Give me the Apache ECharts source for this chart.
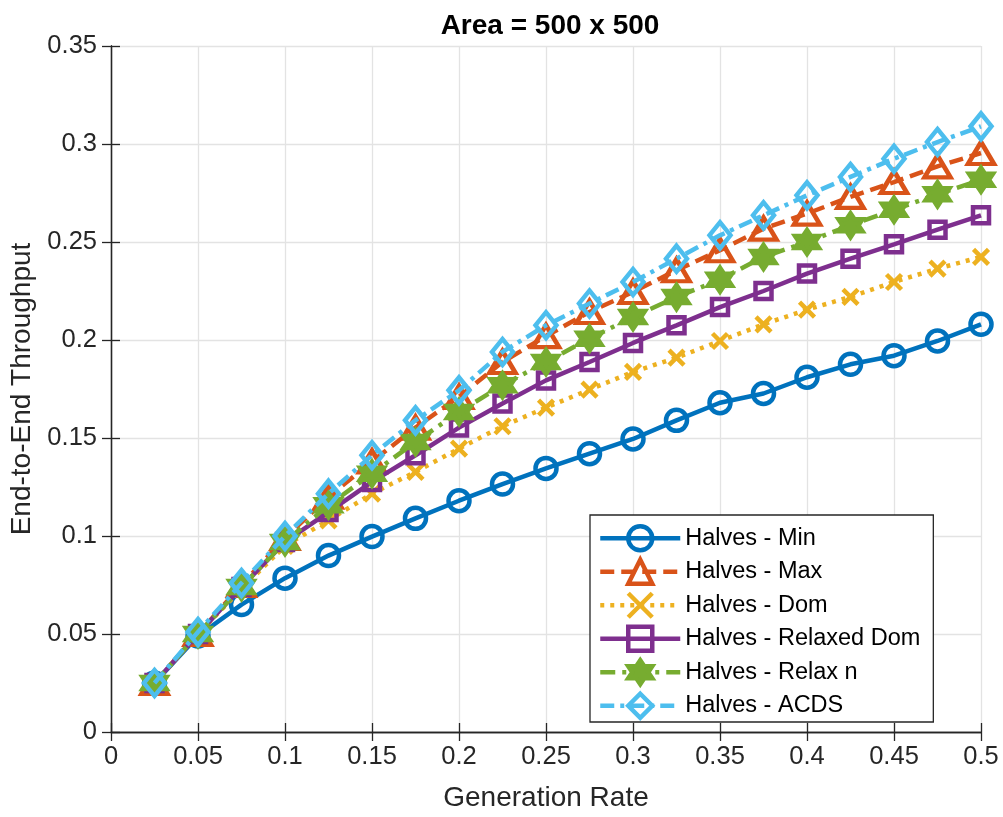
<!DOCTYPE html>
<html>
<head>
<meta charset="utf-8">
<script src="https://cdn.jsdelivr.net/npm/echarts@6/dist/echarts.min.js"></script>
<style>html,body{margin:0;padding:0;background:#fff}#c{width:1003px;height:817px}</style>
</head>
<body>
<div id="c"></div>
<script>
const xValues = [0.025,0.05,0.075,0.1,0.125,0.15,0.175,0.2,0.225,0.25,0.275,0.3,0.325,0.35,0.375,0.4,0.425,0.45,0.475,0.5];
const halvesMin = [0.025,0.049,0.065,0.0785,0.090,0.0997,0.109,0.118,0.1265,0.1345,0.142,0.1495,0.159,0.168,0.1727,0.181,0.1876,0.192,0.1995,0.208];
const halvesMax = [0.025,0.050,0.075,0.099,0.120,0.138,0.1553,0.171,0.1888,0.202,0.2143,0.2245,0.2356,0.2458,0.2568,0.2645,0.273,0.2806,0.2886,0.2954];
const halvesDom = [0.025,0.050,0.073,0.095,0.108,0.1216,0.1327,0.1446,0.156,0.1655,0.1747,0.1837,0.191,0.1995,0.208,0.2155,0.222,0.2296,0.2364,0.2424];
const halvesRelaxedDom = [0.025,0.050,0.074,0.097,0.1122,0.1276,0.1412,0.1553,0.1676,0.1794,0.1888,0.1985,0.2075,0.2168,0.225,0.2339,0.2415,0.2488,0.2563,0.2636];
const halvesRelaxN = [0.025,0.050,0.074,0.097,0.1157,0.1318,0.148,0.1633,0.1769,0.1888,0.2007,0.2117,0.2219,0.2308,0.2424,0.250,0.2585,0.2665,0.2743,0.2818];
const halvesACDS = [0.025,0.051,0.076,0.100,0.1216,0.1412,0.159,0.1743,0.1939,0.2075,0.2186,0.2296,0.2415,0.2534,0.2636,0.2738,0.2832,0.2925,0.301,0.309];
const seriesNames = ['Halves - Min','Halves - Max','Halves - Dom','Halves - Relaxed Dom','Halves - Relax n','Halves - ACDS'];
const xTicks = [0,0.05,0.1,0.15,0.2,0.25,0.3,0.35,0.4,0.45,0.5];
const yTicks = [0,0.05,0.1,0.15,0.2,0.25,0.3,0.35];

const hexagram = 'path://M0,-10 L2.887,-5 L8.66,-5 L5.774,0 L8.66,5 L2.887,5 L0,10 L-2.887,5 L-8.66,5 L-5.774,0 L-8.66,-5 L-2.887,-5 Z';
const FONT = '"Liberation Sans", Arial, Helvetica, sans-serif';
const TXT = '#262626';
const LW = 4.5;

function pairs(arr){ return arr.map((v,i)=>[xValues[i], v]); }

const styles = [
  {color:'#0072BD', dash:'solid', symbol:'circle', size:21, fill:'transparent'},
  {color:'#D95319', dash:[14,7], symbol:'triangle', size:[26,22], fill:'transparent'},
  {color:'#EDB120', dash:[4,6], symbol:'path://M-1,-1 L1,1 M1,-1 L-1,1', size:15, fill:'transparent'},
  {color:'#7E2F8E', dash:'solid', symbol:'rect', size:16, fill:'transparent'},
  {color:'#77AC30', dash:[15,7,4,7], symbol:hexagram, size:24, fill:'#77AC30'},
  {color:'#4DBEEE', dash:[14,6,4,6], symbol:'diamond', size:[21,26], fill:'transparent'}
];
const datasets = [halvesMin, halvesMax, halvesDom, halvesRelaxedDom, halvesRelaxN, halvesACDS];

const series = datasets.map((d,i)=>({
  name: seriesNames[i],
  type: 'line',
  data: pairs(d),
  symbol: styles[i].symbol,
  symbolSize: styles[i].size,
  showAllSymbol: true,
  clip: false,
  lineStyle: {color: styles[i].color, width: LW, type: styles[i].dash},
  itemStyle: {color: styles[i].fill, borderColor: styles[i].color, borderWidth: LW},
  emphasis: {disabled: true},
  animation: false,
  z: 2 + i
}));

const chart = echarts.init(document.getElementById('c'), null, {renderer:'canvas'});
const axisLine = {show:true, lineStyle:{color:TXT, width:1.3}};
chart.setOption({
  backgroundColor: '#fff',
  animation: false,
  title: {text:'Area = 500 x 500', left: 545, top: 7, textAlign:'center',
    textStyle:{fontFamily:FONT, fontSize:28, fontWeight:'bold', color:'#000'}},
  grid: {left:111, right:22, top:46, bottom:85, containLabel:false},
  legend: {
    orient:'vertical', left:590, top:515,
    padding:[9, 13, 2, 8],
    itemWidth: 80, itemHeight: 30, itemGap: 5,
    backgroundColor:'#fff', borderColor:'#262626', borderWidth:1.3, borderRadius:0,
    lineStyle:{width: LW},
    itemStyle:{borderWidth: LW},
    textStyle:{fontFamily:FONT, fontSize:23.5, color:'#000', padding:[0,0,0,0]},
    data: seriesNames
  },
  xAxis: [{
    type:'value', min:0, max:0.5, interval:0.05,
    name:'Generation Rate', nameLocation:'middle', nameGap:52,
    nameTextStyle:{fontFamily:FONT, fontSize:28, color:TXT},
    axisLine: axisLine,
    axisTick:{show:true, inside:true, length:9, lineStyle:{color:TXT, width:1.3}},
    axisLabel:{fontFamily:FONT, fontSize:25.5, color:TXT, margin:12},
    splitLine:{show:true, lineStyle:{color:'#e3e3e3', width:1.3}}
  },{
    type:'value', position:'top', min:0, max:0.5, interval:0.05,
    axisLine: axisLine,
    axisTick:{show:true, inside:true, length:9, lineStyle:{color:TXT, width:1.3}},
    axisLabel:{show:false}, splitLine:{show:false}
  }],
  yAxis: [{
    type:'value', min:0, max:0.35, interval:0.05,
    name:'End-to-End Throughput', nameLocation:'middle', nameGap:68,
    nameTextStyle:{fontFamily:FONT, fontSize:28, color:TXT},
    axisLine: axisLine,
    axisTick:{show:true, inside:true, length:9, lineStyle:{color:TXT, width:1.3}},
    axisLabel:{fontFamily:FONT, fontSize:25.5, color:TXT, margin:14},
    splitLine:{show:true, lineStyle:{color:'#e3e3e3', width:1.3}}
  },{
    type:'value', position:'right', min:0, max:0.35, interval:0.05,
    axisLine: axisLine,
    axisTick:{show:true, inside:true, length:9, lineStyle:{color:TXT, width:1.3}},
    axisLabel:{show:false}, splitLine:{show:false}
  }],
  series: series
});
</script>
</body>
</html>
